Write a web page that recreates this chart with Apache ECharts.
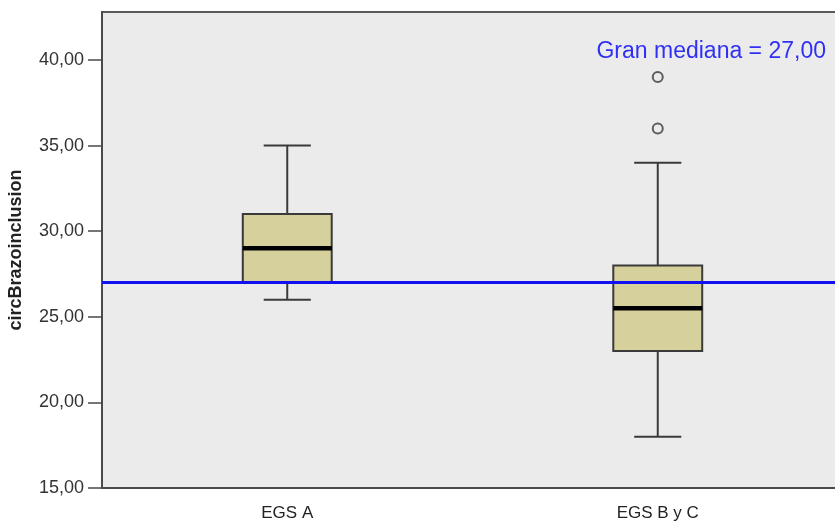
<!DOCTYPE html>
<html>
<head>
<meta charset="utf-8">
<script src="https://cdn.jsdelivr.net/npm/echarts@6/dist/echarts.min.js"></script>
<style>html,body{margin:0;padding:0;background:#fff}#c{width:835px;height:528px}</style>
</head>
<body>
<div id="c"></div>
<script>
var categories = ['EGS A', 'EGS B y C'];
var whiskerLow = [26, 18];
var q1 = [27, 23];
var medians = [29, 25.5];
var q3 = [31, 28];
var whiskerHigh = [35, 34];
var outliers = [[1, 39], [1, 36]];
var grandMedian = 27;
var yTicks = [15, 20, 25, 30, 35, 40];

function fmt(v) { return v.toFixed(2).replace('.', ','); }

var boxData = categories.map(function (c, i) {
  return [i, whiskerLow[i], q1[i], medians[i], q3[i], whiskerHigh[i]];
});

var chart = echarts.init(document.getElementById('c'), null, {renderer: 'canvas'});
chart.setOption({
  backgroundColor: '#ffffff',
  animation: false,
  title: {
    text: 'Gran mediana = ' + fmt(grandMedian),
    right: 4, top: 35,
    textStyle: {color: '#3030f4', fontSize: 23, fontWeight: 'normal', fontFamily: 'Liberation Sans, Arial, sans-serif'}
  },
  grid: {
    left: 102, top: 12, width: 741, bottom: 40,
    outerBoundsMode: 'none',
    containLabel: false,
    show: true, backgroundColor: '#ebebeb', borderColor: '#5a5a5a', borderWidth: 2
  },
  xAxis: {
    type: 'category',
    data: categories,
    axisLine: {lineStyle: {color: '#4a4a4a', width: 2}},
    axisTick: {alignWithLabel: true, length: 12, lineStyle: {color: '#4a4a4a', width: 1.5}},
    axisLabel: {color: '#222', fontSize: 17, margin: 17, fontFamily: 'Liberation Sans, Arial, sans-serif'},
    splitLine: {show: false}
  },
  yAxis: {
    type: 'value',
    min: 15, max: 42.8,
    name: 'circBrazoinclusion',
    nameLocation: 'middle',
    nameGap: 77,
    nameTextStyle: {color: '#222', fontSize: 18, fontWeight: 'bold', fontFamily: 'Liberation Sans, Arial, sans-serif'},
    axisLine: {show: true, lineStyle: {color: '#4a4a4a', width: 2}},
    axisTick: {show: true, length: 14, customValues: yTicks, lineStyle: {color: '#4a4a4a', width: 1.5}},
    axisLabel: {customValues: yTicks, formatter: function (v) { return fmt(v); }, color: '#333', fontSize: 18, margin: 18, fontFamily: 'Liberation Sans, Arial, sans-serif'},
    splitLine: {show: false}
  },
  series: [
    {
      type: 'custom',
      data: boxData,
      encode: {x: 0, y: [1, 2, 3, 4, 5]},
      renderItem: function (params, api) {
        var idx = api.value(0);
        var bw = api.size([1, 0])[0] * 0.24;
        var cw = bw * 0.53;
        var pLow = api.coord([idx, api.value(1)]);
        var pQ1 = api.coord([idx, api.value(2)]);
        var pMed = api.coord([idx, api.value(3)]);
        var pQ3 = api.coord([idx, api.value(4)]);
        var pHigh = api.coord([idx, api.value(5)]);
        var x = pLow[0];
        var stroke = {stroke: '#3a3a3a', lineWidth: 2};
        return {
          type: 'group',
          children: [
            {type: 'line', shape: {x1: x, y1: pHigh[1], x2: x, y2: pQ3[1]}, style: stroke},
            {type: 'line', shape: {x1: x, y1: pLow[1], x2: x, y2: pQ1[1]}, style: stroke},
            {type: 'line', shape: {x1: x - cw / 2, y1: pHigh[1], x2: x + cw / 2, y2: pHigh[1]}, style: stroke},
            {type: 'line', shape: {x1: x - cw / 2, y1: pLow[1], x2: x + cw / 2, y2: pLow[1]}, style: stroke},
            {type: 'rect', shape: {x: x - bw / 2, y: pQ3[1], width: bw, height: pQ1[1] - pQ3[1]}, style: {fill: '#d6d09c', stroke: '#3a3a3a', lineWidth: 2}},
            {type: 'line', shape: {x1: x - bw / 2, y1: pMed[1], x2: x + bw / 2, y2: pMed[1]}, style: {stroke: '#000', lineWidth: 4.5}}
          ]
        };
      },
      z: 2
    },
    {
      type: 'scatter',
      data: outliers,
      symbol: 'circle',
      symbolSize: 10,
      itemStyle: {color: '#ebebeb', borderColor: '#3a3a3a', borderWidth: 2},
      z: 3,
      markLine: {
        silent: true,
        symbol: 'none',
        label: {show: false},
        lineStyle: {color: '#1010f0', width: 3, type: 'solid'},
        data: [{yAxis: grandMedian}],
        z: 4
      }
    }
  ]
});
</script>
</body>
</html>
